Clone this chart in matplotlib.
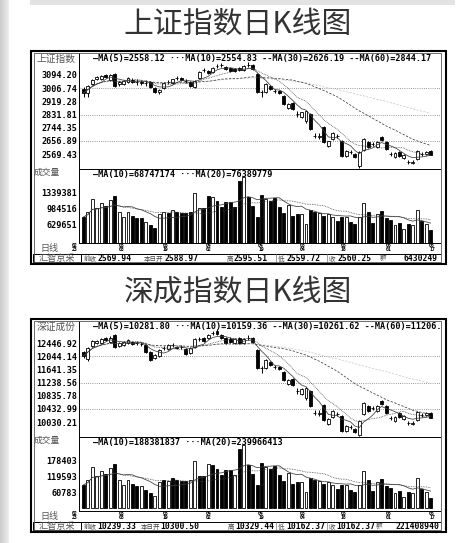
import numpy as np
import pandas as pd
import matplotlib
matplotlib.use('Agg')
import matplotlib.pyplot as plt
from matplotlib.patches import Rectangle
from matplotlib import transforms

# ---------------- data ----------------
sh_open = [3001, 2975, 3034, 3068, 3068, 3094, 3061, 3101, 3034, 3034,
           3048, 3061, 3048, 3048, 3041, 3048, 3008, 2981, 3008, 3048,
           3041, 3074, 3074, 3054, 3048, 3015, 3074, 3127, 3121, 3114,
           3154, 3161, 3147, 3141, 3134, 3141, 3127, 3161, 3161, 3101,
           2981, 2981, 3021, 2988, 2988, 2955, 2875, 2908, 2835, 2815,
           2789, 2835, 2689, 2682, 2749, 2623, 2669, 2689, 2656, 2556,
           2583, 2570, 2490, 2596, 2649, 2636, 2616, 2682, 2649, 2570,
           2550, 2583, 2543, 2516, 2510, 2536, 2570, 2570, 2588.97]
sh_high = [3014, 3028, 3068, 3088, 3094, 3101, 3101, 3108, 3054, 3061,
           3081, 3074, 3068, 3061, 3061, 3054, 3014, 3001, 3048, 3061,
           3068, 3088, 3081, 3068, 3054, 3061, 3121, 3141, 3127, 3147,
           3167, 3174, 3154, 3147, 3141, 3147, 3161, 3181, 3167, 3108,
           2995, 3041, 3028, 3001, 2995, 2961, 2908, 2915, 2855, 2849,
           2855, 2842, 2709, 2709, 2756, 2656, 2716, 2702, 2663, 2596,
           2596, 2576, 2590, 2676, 2656, 2649, 2656, 2689, 2656, 2583,
           2583, 2590, 2570, 2530, 2530, 2596, 2583, 2590, 2595.51]
sh_low = [2948, 2948, 3028, 3061, 3061, 3074, 3054, 3015, 3021, 3028,
          3041, 3041, 3028, 3028, 3021, 3008, 2975, 2968, 3001, 3034,
          3034, 3061, 3054, 3041, 3015, 3008, 3068, 3114, 3101, 3108,
          3141, 3147, 3127, 3114, 3114, 3121, 3121, 3147, 3127, 2975,
          2948, 2975, 2995, 2975, 2968, 2895, 2868, 2862, 2815, 2809,
          2775, 2729, 2676, 2669, 2643, 2616, 2663, 2676, 2550, 2550,
          2570, 2543, 2477, 2590, 2609, 2623, 2609, 2656, 2596, 2556,
          2543, 2550, 2536, 2503, 2503, 2530, 2556, 2563, 2559.72]
sh_close = [2975, 3021, 3061, 3081, 3088, 3081, 3094, 3021, 3048, 3054,
            3074, 3048, 3046, 3044, 3042, 3014, 2981, 2995, 3041, 3046,
            3067, 3072, 3061, 3053, 3021, 3054, 3114, 3125, 3108, 3141,
            3153, 3159, 3134, 3121, 3121, 3127, 3154, 3159, 3134, 2981,
            2979, 3034, 3001, 2986, 2975, 2902, 2902, 2868, 2833, 2848,
            2855, 2736, 2687, 2689, 2649, 2656, 2709, 2687, 2556, 2590,
            2581, 2550, 2583, 2669, 2616, 2634, 2649, 2663, 2603, 2568,
            2576, 2556, 2563, 2514, 2516, 2590, 2568, 2583, 2560.25]
sh_volume = [790000, 904000, 1202000, 996000, 1110000, 1042000, 1179000, 1271000, 904000, 790000,
             904000, 813000, 767000, 767000, 675000, 607000, 538000, 859000, 904000, 881000,
             950000, 904000, 881000, 881000, 904000, 1339000, 996000, 996000, 1271000, 1248000,
             1156000, 1019000, 1133000, 1133000, 1019000, 1614000, 1706000, 1248000, 1042000, 790000,
             1294000, 1202000, 1156000, 1225000, 1019000, 881000, 1065000, 813000, 859000, 859000,
             630000, 950000, 904000, 881000, 813000, 859000, 790000, 698000, 790000, 790000,
             675000, 630000, 790000, 1110000, 904000, 653000, 859000, 927000, 767000, 721000,
             607000, 653000, 515000, 630000, 607000, 950000, 698000, 630000, 492000]

sz_open = [12172, 11958, 12355, 12447, 12447, 12600, 12478, 12692, 12355, 12386,
           12447, 12478, 12447, 12416, 12386, 12172, 11988, 12049, 12294, 12263,
           12386, 12325, 12325, 12263, 12141, 12325, 12569, 12600, 12600, 12753,
           12814, 12692, 12600, 12569, 12447, 12600, 12447, 12600, 12600, 12233,
           11682, 11682, 11866, 11713, 11713, 11560, 11193, 11346, 10979, 10887,
           10765, 10979, 10306, 10276, 10551, 9970, 10184, 10276, 10214, 9756,
           9878, 9817, 9633, 10276, 10520, 10459, 10367, 10673, 10520, 10153,
           10062, 10306, 10123, 10000, 9970, 10092, 10245, 10245, 10300.50]
sz_high = [12202, 12325, 12539, 12539, 12600, 12630, 12661, 12722, 12478, 12508,
           12569, 12508, 12508, 12478, 12416, 12202, 12111, 12263, 12355, 12416,
           12447, 12355, 12386, 12294, 12325, 12600, 12630, 12630, 12722, 12814,
           12875, 12722, 12630, 12630, 12600, 12630, 12600, 12692, 12630, 12263,
           11744, 11958, 11897, 11774, 11744, 11591, 11346, 11377, 11071, 11071,
           11101, 11010, 10398, 10398, 10581, 10153, 10398, 10337, 10245, 9939,
           9939, 9847, 10092, 10643, 10551, 10520, 10551, 10704, 10551, 10214,
           10214, 10337, 10245, 10062, 10062, 10367, 10306, 10337, 10329.44]
sz_low = [11988, 11897, 12325, 12416, 12416, 12508, 12447, 12294, 12325, 12355,
          12416, 12386, 12386, 12355, 12141, 11897, 11958, 12019, 12233, 12233,
          12325, 12263, 12263, 12080, 12111, 12294, 12508, 12478, 12569, 12692,
          12692, 12569, 12416, 12447, 12416, 12416, 12416, 12539, 12447, 11652,
          11530, 11652, 11744, 11652, 11621, 11285, 11162, 11132, 10887, 10857,
          10704, 10490, 10245, 10214, 10062, 9939, 10153, 10214, 9725, 9725,
          9817, 9695, 9590, 10245, 10337, 10398, 10337, 10551, 10276, 10092,
          10031, 10153, 10092, 9939, 9939, 10062, 10184, 10214, 10162.37]
sz_close = [12049, 12294, 12508, 12508, 12569, 12539, 12600, 12325, 12447, 12478,
            12539, 12416, 12438, 12426, 12172, 11927, 12080, 12233, 12285, 12386,
            12377, 12294, 12316, 12111, 12294, 12569, 12560, 12508, 12692, 12744,
            12722, 12600, 12447, 12478, 12569, 12447, 12569, 12594, 12478, 11682,
            11673, 11927, 11774, 11704, 11652, 11315, 11315, 11162, 10970, 11040,
            11071, 10520, 10297, 10306, 10092, 10123, 10367, 10266, 9756, 9909,
            9869, 9725, 10062, 10612, 10367, 10450, 10520, 10582, 10306, 10144,
            10184, 10184, 10214, 9991, 10000, 10337, 10236, 10306, 10162.37]
sz_volume = [87300, 106300, 155600, 121500, 140500, 129100, 151800, 167000, 106300, 87300,
             106300, 91100, 83500, 83500, 68400, 57000, 45600, 98700, 106300, 102500,
             113900, 106300, 102500, 102500, 106300, 178400, 121500, 121500, 167000, 163200,
             148000, 125300, 144300, 144300, 125300, 223900, 239100, 163200, 129100, 87300,
             170800, 155600, 148000, 159400, 125300, 102500, 132900, 91100, 98700, 98700,
             60800, 113900, 106300, 102500, 91100, 98700, 87300, 72200, 87300, 87300,
             68400, 60800, 87300, 140500, 106300, 64600, 98700, 110100, 83500, 76000,
             57000, 64600, 41800, 60800, 57000, 113900, 72200, 60800, 38000]

sh_price_labels = [3094.20, 3006.74, 2919.28, 2831.81, 2744.35, 2656.89, 2569.43]
sz_price_labels = [12446.92, 12044.14, 11641.35, 11238.56, 10835.78, 10432.99, 10030.21]
sh_volume_labels = [1339381, 984516, 629651]
sz_volume_labels = [178403, 119593, 60783]

date_labels = [('02', '23'), ('03', '08'), ('03', '19'), ('04', '02'), ('04', '19'),
               ('05', '04'), ('05', '18'), ('06', '01'), ('06', '17')]
date_pos = [-1.9, 8.6, 18.5, 28.2, 39.9, 49.3, 58.5, 68.6, 78.3]

sh_header = '—MA(5)=2558.12 ···MA(10)=2554.83 --MA(30)=2626.19 --MA(60)=2844.17'
sz_header = '—MA(5)=10281.80 ···MA(10)=10159.36 --MA(30)=10261.62 --MA(60)=11206.17'
sh_vol_header = '—MA(10)=68747174 ···MA(20)=76389779'
sz_vol_header = '—MA(10)=188381837 ···MA(20)=239966413'

info_labels = ['前收', '本日开', '高', '低', '收', '额']
sh_info_values = ['2569.94', '2588.97', '2595.51', '2559.72', '2560.25', '6430249']
sz_info_values = ['10239.33', '10300.50', '10329.44', '10162.37', '10162.37', '221408940']

# ---------------- layout ----------------
W, H = 463, 543
DPI = 100
MONO = 'DejaVu Sans Mono'
CJK = ['Noto Sans CJK SC', 'DejaVu Sans']
X0, X1 = 79.0, 440.0          # plot area
BAR0, BAR_STEP = 83.5, 4.45   # bar x position in pixels

fig = plt.figure(figsize=(W / DPI, H / DPI), dpi=DPI)
fig.patch.set_facecolor('white')

deco = fig.add_axes([0, 0, 1, 1])
deco.set_xlim(0, W)
deco.set_ylim(H, 0)
deco.axis('off')
deco.set_zorder(10)
deco.patch.set_alpha(0)

# page decoration (grey strips)
bg = fig.add_axes([0, 0, 9 / W, 1])
bg.imshow(np.linspace(0.80, 0.93, 16)[None, :], aspect='auto', cmap='gray', vmin=0, vmax=1,
          extent=[0, 1, 0, 1])
bg.axis('off')
deco.add_patch(Rectangle((30, 0), 425, 5, color='#e3e3e3', lw=0, zorder=0))


def ax_px(x0, y0, x1, y1):
    return fig.add_axes([x0 / W, 1 - y1 / H, (x1 - x0) / W, (y1 - y0) / H])


def bare(ax):
    ax.set_facecolor('none')
    for s in ax.spines.values():
        s.set_visible(False)
    ax.set_xticks([])


def draw_panel(T, title, name, O, Hi, Lo, C, V, plabels, vlabels, header, vheader,
               info_vals, lab_x, val_x):
    O, Hi, Lo, C, V = map(np.asarray, (O, Hi, Lo, C, V))
    n = len(C)
    idx = np.arange(n)
    xlim = ((X0 - BAR0) / BAR_STEP, (X1 - BAR0) / BAR_STEP)

    # title
    deco.text(238, T - 26, title, ha='center', va='center', fontsize=21.5,
              color='#333333', family=CJK, fontweight='light')

    # frames
    deco.add_patch(Rectangle((30.5, T + 0.5), 415, 213, fill=False, ec='black', lw=1.5, zorder=6))
    deco.add_patch(Rectangle((33.5, T + 2.5), 407, 209, fill=False, ec='#555555', lw=0.6, zorder=6))
    deco.plot([X0, X0], [T + 2.5, T + 192.5], color='black', lw=0.7)
    deco.plot([X0, X1], [T + 119, T + 119], color='black', lw=0.7)
    deco.plot([X0, X1], [T + 192.5, T + 192.5], color='black', lw=0.7)
    deco.plot([33.5, X1], [T + 203.5, T + 203.5], color='black', lw=0.7)

    # ---------- price axes ----------
    ax = ax_px(X0, T + 2.5, X1, T + 119)
    bare(ax)
    step_val = plabels[0] - plabels[1]
    p_at = lambda rel: plabels[0] - (rel - 25.0) / 13.17 * step_val
    ax.set_ylim(p_at(119), p_at(2.5))
    ax.set_xlim(*xlim)
    ax.set_yticks(plabels)
    ax.set_yticklabels(['%.2f' % v for v in plabels])
    ax.tick_params(axis='y', length=0, pad=1.5, labelsize=6.1, labelcolor='black')
    for t in ax.get_yticklabels():
        t.set_fontfamily(MONO)
        t.set_fontweight('bold')
    for g in plabels[1::2]:
        ax.axhline(g, color='#777777', lw=0.6, ls=(0, (1, 1.6)), zorder=1)

    up = C >= O
    ax.vlines(idx, Lo, Hi, color='black', lw=0.7, zorder=2)
    body_lo = np.minimum(O, C)
    body_h = np.maximum(np.abs(C - O), step_val * 0.004)
    ax.bar(idx[up], body_h[up], bottom=body_lo[up], width=0.66, color='white',
           edgecolor='black', linewidth=0.6, zorder=3)
    ax.bar(idx[~up], body_h[~up], bottom=body_lo[~up], width=0.66, color='black',
           edgecolor='black', linewidth=0.6, zorder=3)

    s = pd.Series(C)
    ma_col = '#3c3c3c'
    ax.plot(idx, s.rolling(5, min_periods=1).mean(), color=ma_col, lw=0.55, zorder=4)
    ax.plot(idx, s.rolling(10, min_periods=1).mean(), color=ma_col, lw=0.55, ls=(0, (1, 1.2)), zorder=4)
    ax.plot(idx, s.rolling(30, min_periods=1).mean(), color=ma_col, lw=0.55, ls=(0, (3, 2)), zorder=4)
    ax.plot(idx, s.rolling(60, min_periods=1).mean(), color='#c4c4c4', lw=0.5, ls=(0, (3, 2)), zorder=1.5)

    t = ax.text(93, T + 8.5, header, transform=deco.transData, ha='left', va='center',
                fontsize=6.1, family=MONO, fontweight='bold', color='black', zorder=8)
    t.set_clip_on(True)
    t.set_clip_box(ax.bbox)

    # ---------- volume axes ----------
    av = ax_px(X0, T + 119, X1, T + 192.5)
    bare(av)
    vstep = vlabels[0] - vlabels[1]
    v_at = lambda rel: vlabels[-1] + (174.0 - rel) / 15.5 * vstep
    av.set_ylim(v_at(192.5), v_at(119))
    av.set_xlim(*xlim)
    av.set_yticks(vlabels)
    av.set_yticklabels(['%d' % v for v in vlabels])
    av.tick_params(axis='y', length=0, pad=1.5, labelsize=6.1, labelcolor='black')
    for tl in av.get_yticklabels():
        tl.set_fontfamily(MONO)
        tl.set_fontweight('bold')
    av.bar(idx[up], V[up], width=0.66, color='white', edgecolor='black', linewidth=0.6, zorder=3)
    av.bar(idx[~up], V[~up], width=0.66, color='black', edgecolor='black', linewidth=0.6, zorder=3)
    vs = pd.Series(V)
    av.plot(idx, vs.rolling(10, min_periods=1).mean(), color=ma_col, lw=0.55, zorder=4)
    av.plot(idx, vs.rolling(20, min_periods=1).mean(), color=ma_col, lw=0.55, ls=(0, (1, 1.2)), zorder=4)
    deco.text(93, T + 124.5, vheader, ha='left', va='center', fontsize=6.1, family=MONO,
              fontweight='bold', color='black')

    # left labels
    deco.text(56, T + 8.5, name, ha='center', va='center', fontsize=7, family=CJK, color='#555555')
    deco.text(47, T + 122, '成交量', ha='center', va='center', fontsize=6.3, family=CJK, color='#555555')
    deco.text(49, T + 198, '日线', ha='center', va='center', fontsize=6.5, family=CJK, color='#555555')

    # dates
    tr = transforms.blended_transform_factory(av.transData, deco.transData)
    for (a, b), p in zip(date_labels, date_pos):
        deco.text(p, T + 195.6, a, transform=tr, ha='center', va='center', fontsize=3.5,
                  family=MONO, fontweight='bold', color='black')
        deco.text(p, T + 199.8, b, transform=tr, ha='center', va='center', fontsize=3.5,
                  family=MONO, fontweight='bold', color='black')

    # info row
    yb = T + 208.5
    deco.add_patch(Rectangle((32.5, T + 203.5), 48.5, 8.5, fill=False, ec='black', lw=0.7))
    deco.text(56.5, yb, '汇智京采', ha='center', va='center', fontsize=6.6, family=CJK, color='#555555')
    for k, (lab, val) in enumerate(zip(info_labels, info_vals)):
        deco.text(lab_x[k], yb, lab, ha='left', va='center', fontsize=4.7, family=CJK, color='#444444')
        if k == len(info_vals) - 1:
            deco.text(val_x[k], yb, val, ha='right', va='center', fontsize=5.8, family=MONO,
                      fontweight='bold', color='black')
        else:
            deco.text(val_x[k], yb, val, ha='left', va='center', fontsize=5.8, family=MONO,
                      fontweight='bold', color='black')
    for xs in (276, 327):
        deco.plot([xs, xs], [T + 204, T + 212], color='#777777', lw=0.5)


draw_panel(50, '上证指数日K线图', '上证指数', sh_open, sh_high, sh_low, sh_close, sh_volume,
           sh_price_labels, sh_volume_labels, sh_header, sh_vol_header, sh_info_values,
           [83.5, 144, 227, 277.5, 328.5, 380], [97.5, 164.5, 234, 286.5, 337.5, 438])
draw_panel(318, '深成指数日K线图', '深证成份', sz_open, sz_high, sz_low, sz_close, sz_volume,
           sz_price_labels, sz_volume_labels, sz_header, sz_vol_header, sz_info_values,
           [83.5, 140.5, 228, 278, 328.5, 376], [97, 160, 235, 286.5, 336.5, 439])

fig.savefig('out.png', dpi=DPI)
